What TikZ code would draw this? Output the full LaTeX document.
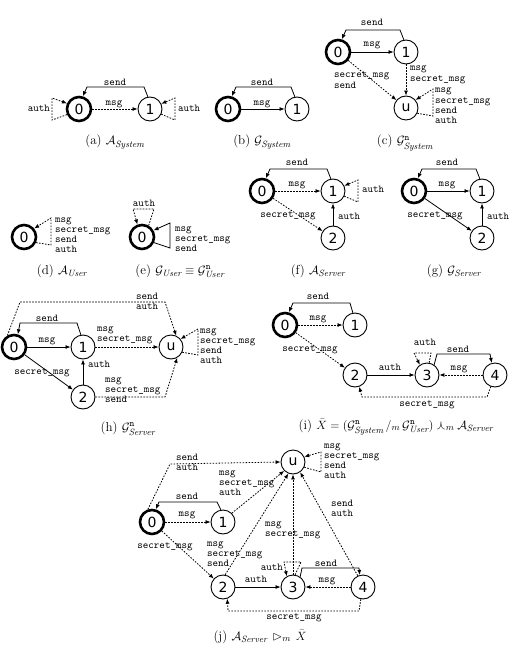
\documentclass[tikz,border=0pt]{standalone}
\usepackage{amssymb}
\usepackage{fontspec}
\newfontfamily\statefont{DejaVu Sans}
\usetikzlibrary{arrows.meta,calc}
\tikzset{
 st/.style={circle,draw,line width=0.9pt,minimum size=24pt,inner sep=0pt,font=\statefont\fontsize{14}{14}\selectfont},
 init/.style={st,line width=2.6pt},
 edg/.style={line width=0.8pt,-{Latex[length=5pt,width=4pt]}},
 dsh/.style={edg,dash pattern=on 1.6pt off 1.4pt},
 lb/.style={font=\ttfamily\fontsize{10.5}{10.3}\selectfont,inner sep=0pt,align=left,anchor=base west},
 lbc/.style={lb,anchor=base},
 lbe/.style={lb,anchor=base east},
 capt/.style={font=\fontsize{13}{15}\selectfont,anchor=base,inner sep=0pt}
}
\begin{document}
\begin{tikzpicture}[x=1pt,y=-1pt]
\useasboundingbox (0,0) rectangle (513,647);
% (a)
\node[init] (a0) at (79,109) {0};
\node[st] (a1) at (150,109) {1};
\draw[edg] (a1.100) -- ($(a1)+(-6,-22)$) -- ($(a0)+(8,-22)$) -- (a0.73);
\node[lbc] at (115,86) {send};
\draw[dsh] (a0) -- (a1);
\node[lbc] at (114,106) {msg};
\draw[dsh] (a0.205) -- ($(a0)+(-27,11)$) -- ($(a0)+(-27,-11)$) -- (a0.155);
\node[lbe] at (50,112) {auth};
\draw[dsh] (a1.-25) -- ($(a1)+(25,11)$) -- ($(a1)+(25,-11)$) -- (a1.25);
\node[lb] at (178,112) {auth};
\node[capt] at (115,145) {(a)~$\mathcal{A}_{\mathit{System}}$};
% (b)
\node[init] (b0) at (228,109) {0};
\node[st] (b1) at (297,109) {1};
\draw[edg] (b1.100) -- ($(b1)+(-6,-22)$) -- ($(b0)+(8,-22)$) -- (b0.73);
\node[lbc] at (262,86) {send};
\draw[edg] (b0) -- (b1);
\node[lbc] at (262,106) {msg};
\node[capt] at (262,145) {(b)~$\mathcal{G}_{\mathit{System}}$};
% (c)
\node[init] (c0) at (338,52) {0};
\node[st] (c1) at (406,52) {1};
\node[st] (cu) at (406,108) {u};
\draw[edg] (c1.100) -- ($(c1)+(-6,-22)$) -- ($(c0)+(8,-22)$) -- (c0.73);
\node[lbc] at (372,26) {send};
\draw[edg] (c0) -- (c1);
\node[lbc] at (372,47) {msg};
\draw[dsh] (c0) -- (cu);
\node[lb] at (334,88.3) {secret\_msg\\send};
\draw[dsh] (c1) -- (cu);
\node[lb] at (410,81.3) {msg\\secret\_msg};
\draw[dsh] (cu.-25) -- ($(cu)+(27,8)$) -- ($(cu)+(27,-19)$) -- (cu.40);
\node[lb] at (435,123.9) {msg\\secret\_msg\\send\\auth};
\node[capt] at (405,145) {(c)~$\mathcal{G}^{\mathtt{n}}_{\mathit{System}}$};
% (d)
\node[init] (d0) at (24,237) {0};
\draw[dsh] (d0.-25) -- ($(d0)+(27,8)$) -- ($(d0)+(27,-19)$) -- (d0.40);
\node[lb] at (55,252.9) {msg\\secret\_msg\\send\\auth};
\node[capt] at (62,274) {(d)~$\mathcal{A}_{\mathit{User}}$};
% (e)
\node[init] (e0) at (142,237) {0};
\draw[edg] (e0.-25) -- ($(e0)+(28,11)$) -- ($(e0)+(28,-14)$) -- (e0.30);
\node[lb] at (175,251.6) {msg\\secret\_msg\\send};
\draw[dsh] (e0.60) -- ($(e0)+(12,-28)$) -- ($(e0)+(-9,-28)$) -- (e0.110);
\node[lbc] at (144,206) {auth};
\node[capt] at (180,274) {(e)~$\mathcal{G}_{\mathit{User}}\equiv\mathcal{G}^{\mathtt{n}}_{\mathit{User}}$};
% (f)
\node[init] (f0) at (262,191) {0};
\node[st] (f1) at (333,191) {1};
\node[st] (f2) at (333,238) {2};
\draw[edg] (f1.100) -- ($(f1)+(-6,-22)$) -- ($(f0)+(8,-22)$) -- (f0.73);
\node[lbc] at (297,166) {send};
\draw[dsh] (f0) -- (f1);
\node[lbc] at (297,186) {msg};
\draw[dsh] (f0) -- (f2);
\node[lbc] at (288,217) {secret\_msg};
\draw[edg] (f2) -- (f1);
\node[lb] at (338,219) {auth};
\draw[dsh] (f1.-25) -- ($(f1)+(25,11)$) -- ($(f1)+(25,-11)$) -- (f1.25);
\node[lb] at (362,192) {auth};
\node[capt] at (318,274) {(f)~$\mathcal{A}_{\mathit{Server}}$};
% (g)
\node[init] (g0) at (414,191) {0};
\node[st] (g1) at (482,191) {1};
\node[st] (g2) at (482,238) {2};
\draw[edg] (g1.100) -- ($(g1)+(-6,-22)$) -- ($(g0)+(8,-22)$) -- (g0.73);
\node[lbc] at (447,166) {send};
\draw[edg] (g0) -- (g1);
\node[lbc] at (447,186) {msg};
\draw[edg] (g0) -- (g2);
\node[lbc] at (435,217) {secret\_msg};
\draw[edg] (g2) -- (g1);
\node[lb] at (487,219) {auth};
\node[capt] at (454,274) {(g)~$\mathcal{G}_{\mathit{Server}}$};
% (h)
\node[init] (h0) at (14,347) {0};
\node[st] (h1) at (83,347) {1};
\node[st] (h2) at (83,397) {2};
\node[st] (hu) at (171,347) {u};
\draw[edg] (h1.100) -- ($(h1)+(-6,-24)$) -- ($(h0)+(6,-24)$) -- (h0.73);
\node[lbc] at (47,321) {send};
\draw[edg] (h0) -- (h1);
\node[lbc] at (47,342) {msg};
\draw[edg] (h0) -- (h2);
\node[lbc] at (42,374) {secret\_msg};
\draw[edg] (h2) -- (h1);
\node[lb] at (88,367) {auth};
\draw[dsh] (h1) -- (hu);
\node[lb] at (97,341.3) {msg\\secret\_msg};
\draw[dsh] (h2.east) -- (165,397) -- (hu.-60);
\node[lb] at (105,402.6) {msg\\secret\_msg\\send};
\draw[dsh] (h0.120) -- (20,302) -- (165,302) -- (hu.65);
\node[lb] at (136,309.3) {send\\auth};
\draw[dsh] (hu.-25) -- ($(hu)+(27,8)$) -- ($(hu)+(27,-18)$) -- (hu.40);
\node[lb] at (200,363.9) {msg\\secret\_msg\\send\\auth};
\node[capt] at (128,431) {(h)~$\mathcal{G}^{\mathtt{n}}_{\mathit{Server}}$};
% (i)
\node[init] (i0) at (285,325) {0};
\node[st] (i1) at (355,325) {1};
\node[st] (i2) at (355,375) {2};
\node[st] (i3) at (427,375) {3};
\node[st] (i4) at (495,375) {4};
\draw[edg] (i1.100) -- ($(i1)+(-5,-22)$) -- ($(i0)+(8,-22)$) -- (i0.73);
\node[lbc] at (318,299) {send};
\draw[dsh] (i0) -- (i1);
\node[lbc] at (318,320) {msg};
\draw[dsh] (i0) -- (i2);
\node[lbc] at (310,351) {secret\_msg};
\draw[edg] (i2) -- (i3);
\node[lbc] at (390,370) {auth};
\draw[dsh] (i4) -- (i3);
\node[lbc] at (459,370) {msg};
\draw[edg] (i3.55) -- ($(i3)+(10,-21)$) -- ($(i4)+(-5,-21)$) -- (i4.105);
\node[lbc] at (458,352) {send};
\draw[dsh] (i3.80) -- ($(i3)+(4,-22)$) -- ($(i3)+(-13,-22)$) -- (i3.125);
\node[lbc] at (425,345) {auth};
\draw[dsh] (i4.-110) -- ($(i4)+(-8,22)$) -- ($(i2)+(7,22)$) -- (i2.-70);
\node[lbc] at (427,406) {secret\_msg};
\node[capt] at (396,429) {(i)~$\bar{X} = (\mathcal{G}^{\mathtt{n}}_{\mathit{System}}\,/_{m}\,\mathcal{G}^{\mathtt{n}}_{\mathit{User}}) \curlywedge_{m} \mathcal{A}_{\mathit{Server}}$};
% (j)
\node[st] (ju) at (293,462) {u};
\node[init] (j0) at (152,522) {0};
\node[st] (j1) at (223,522) {1};
\node[st] (j2) at (223,587) {2};
\node[st] (j3) at (293,587) {3};
\node[st] (j4) at (363,587) {4};
\draw[edg] (j1.100) -- ($(j1)+(-6,-20)$) -- ($(j0)+(7,-20)$) -- (j0.73);
\node[lbc] at (187,499) {send};
\draw[dsh] (j0) -- (j1);
\node[lbc] at (187,516) {msg};
\draw[dsh] (j0) -- (j2);
\node[lbc] at (165,548) {secret\_msg};
\draw[edg] (j2) -- (j3);
\node[lbc] at (256,582) {auth};
\draw[dsh] (j4) -- (j3);
\node[lbc] at (327,582) {msg};
\draw[edg] (j3.55) -- ($(j3)+(9,-19)$) -- ($(j4)+(-4,-19)$) -- (j4.105);
\node[lbc] at (326,566) {send};
\draw[dsh] (j3.80) -- ($(j3)+(8,-25)$) -- ($(j3)+(-9,-25)$) -- (j3.120);
\node[lbe] at (283,570) {auth};
\draw[dsh] (j4.-100) -- ($(j4)+(-4,24)$) -- ($(j2)+(5,24)$) -- (j2.-70);
\node[lbc] at (294,619) {secret\_msg};
\draw[dsh] (j0.108) -- (170,464) -- (ju.west);
\node[lb] at (176,470.3) {send\\auth};
\draw[dsh] (j1.45) -- (ju.-135);
\node[lb] at (219,495.6) {msg\\secret\_msg\\auth};
\draw[dsh] (j2.80) -- (ju.-112);
\node[lb] at (207,566.6) {msg\\secret\_msg\\send};
\draw[dsh] (j3.north) -- (ju.south);
\node[lb] at (265,536.3) {msg\\secret\_msg};
\draw[dsh] (j4.115) -- (ju.-55);
\node[lb] at (331,516.3) {send\\auth};
\draw[dsh] (ju.-25) -- ($(ju)+(28,10)$) -- ($(ju)+(28,-10)$) -- (ju.25);
\node[lb] at (324,478.9) {msg\\secret\_msg\\send\\auth};
\node[capt] at (260,640) {(j)~$\mathcal{A}_{\mathit{Server}}\,\rhd_{m}\,\bar{X}$};
\end{tikzpicture}
\end{document}
